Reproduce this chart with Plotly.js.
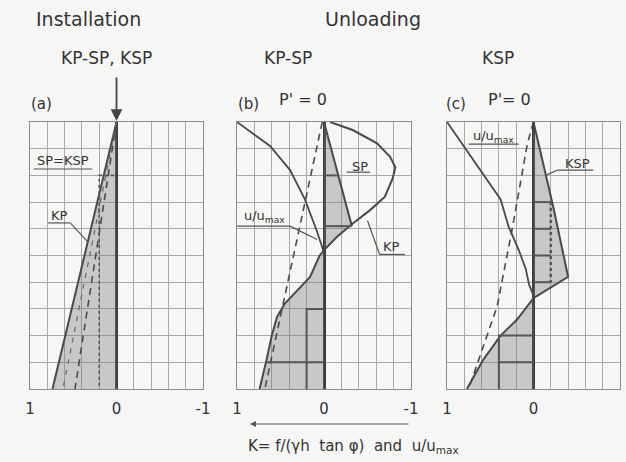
<!DOCTYPE html>
<html>
<head>
<meta charset="utf-8">
<script src="https://cdn.plot.ly/plotly-3.0.1.min.js"></script>
<style>html,body{margin:0;padding:0;background:#f6f6f4;}#chart{width:626px;height:462px;}</style>
</head>
<body>
<div id="chart"></div>
<script>
// ---------- DATA (x = K or u/umax, d = relative depth) ----------
// Panel (a) installation
const aKP_x = [0, 0.74];           const aKP_d = [0, 1];
const aSP_x = [0, 0.48];           const aSP_d = [0, 1];
const aSP2_x = [0, 0.62];          const aSP2_d = [0, 1];
const aStep_x = [0.03, 0.2, 0.2];  const aStep_d = [0.2, 0.2, 1];

// Panel (b) unloading KP-SP
const bKP_x = [-0.07, -0.33, -0.61, -0.76, -0.82, -0.79, -0.70, -0.53, -0.33, -0.15, 0.0, 0.05, 0.16, 0.31, 0.45, 0.54, 0.60, 0.66, 0.74];
const bKP_d = [0, 0.03, 0.08, 0.13, 0.17, 0.21, 0.28, 0.33, 0.38, 0.43, 0.48, 0.50, 0.58, 0.63, 0.68, 0.73, 0.80, 0.89, 1.0];
const bU_x = [1.0, 0.62, 0.39, 0.22, 0.08, 0.0];
const bU_d = [0, 0.09, 0.18, 0.29, 0.41, 0.49];
const bDash_x = [0.02, 0.68];      const bDash_d = [0, 1];
const bSP_x = [0, -0.32];          const bSP_d = [0, 0.39];
const bStep_x = [0, -0.16, null, 0, -0.32, null, 0.2, 0.2, 0, null, 0.66, 0];
const bStep_d = [0.2, 0.2, null, 0.39, 0.39, null, 1, 0.7, 0.7, null, 0.9, 0.9];

// Panel (c) unloading KSP
const cU_x = [1.0, 0.81, 0.59, 0.38, 0.29, 0.17, 0.09, 0.05, 0.0];
const cU_d = [0, 0.09, 0.19, 0.29, 0.39, 0.48, 0.55, 0.61, 0.65];
const cDash_x = [0, 0.07, 0.24, 0.42, 0.75];
const cDash_d = [0, 0.08, 0.39, 0.69, 1];
const cKSP_x = [0, -0.23, -0.40, 0.0];
const cKSP_d = [0, 0.32, 0.58, 0.66];
const cLow_x = [0, 0.19, 0.38, 0.58, 0.77];
const cLow_d = [0.66, 0.74, 0.80, 0.89, 1.0];
const cStep_x = [0, -0.2, null, 0, -0.2, null, 0, -0.2, null, 0, -0.2, null, 0.4, 0.4, 0, null, 0.4, 0];
const cStep_d = [0.3, 0.3, null, 0.4, 0.4, null, 0.5, 0.5, null, 0.6, 0.6, null, 1, 0.8, 0.8, null, 0.9, 0.9];
const cDot_x = [-0.2, -0.2];       const cDot_d = [0.3, 0.6];

const tickVals = [1, 0, -1];
const tickText = ['1', '0', '-1'];

// ---------- STYLE ----------
const INK = '#4a4a4a';
const SHADE = 'rgba(120,120,120,0.36)';
const FONT = 'DejaVu Sans';

function line(x, y, ax, opts) {
  return Object.assign({type: 'scatter', mode: 'lines', x: x, y: y,
    xaxis: 'x' + ax, yaxis: 'y' + ax, hoverinfo: 'skip', showlegend: false,
    line: {color: INK, width: 1.8}}, opts || {});
}
function shade(x, y, ax) {
  return {type: 'scatter', mode: 'lines', x: x, y: y, xaxis: 'x' + ax, yaxis: 'y' + ax,
    fill: 'toself', fillcolor: SHADE, line: {width: 0}, hoverinfo: 'skip', showlegend: false};
}
function sel(xs, ds, lo, hi) {
  const ox = [], od = [];
  for (let i = 0; i < xs.length; i++) if (ds[i] >= lo && ds[i] <= hi) { ox.push(xs[i]); od.push(ds[i]); }
  return [ox, od];
}

const traces = [];
// (a)
traces.push(shade([0].concat(aKP_x.slice(1), [0]), [0].concat(aKP_d.slice(1), [aKP_d[aKP_d.length - 1]]), ''));
traces.push(line(aKP_x, aKP_d, '', {line: {color: INK, width: 2}}));
traces.push(line(aSP_x, aSP_d, '', {line: {color: INK, width: 1.6, dash: '7px,5px'}}));
traces.push(line(aSP2_x, aSP2_d, '', {line: {color: '#666', width: 1.2, dash: '5px,6px'}}));
traces.push(line(aStep_x, aStep_d, '', {line: {color: '#555', width: 1.6, dash: 'dot'}}));

// (b)
const [bU1x, bU1d] = sel(bKP_x, bKP_d, bSP_d[1] - 0.01, 0.48);
traces.push(shade(bSP_x.concat(bU1x, [0]), bSP_d.concat(bU1d, [0.48]), '2'));
const [bL1x, bL1d] = sel(bKP_x, bKP_d, 0.48, 1);
traces.push(shade(bL1x.concat([0]), bL1d.concat([1]), '2'));
traces.push(line(bKP_x, bKP_d, '2', {line: {color: INK, width: 2}}));
traces.push(line(bU_x, bU_d, '2', {line: {color: INK, width: 1.8}}));
traces.push(line(bDash_x, bDash_d, '2', {line: {color: INK, width: 1.6, dash: '7px,5px'}}));
traces.push(line(bSP_x, bSP_d, '2', {line: {color: INK, width: 2}}));
traces.push(line(bStep_x, bStep_d, '2', {line: {color: '#555', width: 2}, connectgaps: false}));

// (c)
traces.push(shade(cKSP_x, cKSP_d, '3'));
traces.push(shade(cLow_x.concat([0]), cLow_d.concat([1]), '3'));
traces.push(line(cU_x, cU_d, '3', {line: {color: INK, width: 1.8}}));
traces.push(line(cDash_x, cDash_d, '3', {line: {color: INK, width: 1.6, dash: '7px,5px'}}));
traces.push(line(cKSP_x, cKSP_d, '3', {line: {color: INK, width: 2}}));
traces.push(line(cLow_x, cLow_d, '3', {line: {color: INK, width: 2}}));
traces.push(line(cStep_x, cStep_d, '3', {line: {color: '#555', width: 2}, connectgaps: false}));
traces.push(line(cDot_x, cDot_d, '3', {line: {color: '#555', width: 2.5, dash: 'dot'}}));

// ---------- LAYOUT ----------
const W = 626, H = 462;
const px = v => v / W, py = v => 1 - v / H;
const yDom = [py(389), py(122)];

function xax(d0, d1) {
  return {domain: [px(d0), px(d1)], range: [1, -1], tickvals: tickVals, ticktext: tickText,
    showgrid: true, gridcolor: '#a8a8a8', gridwidth: 1,
    minor: {dtick: 0.2, tick0: 0, showgrid: true, gridcolor: '#a8a8a8', gridwidth: 1, ticks: ''},
    zeroline: true, zerolinecolor: '#3c3c3c', zerolinewidth: 3,
    showline: true, mirror: true, linecolor: '#8a8a8a', linewidth: 1,
    ticks: '', ticklabelstandoff: 6,
    tickfont: {family: FONT, size: 15, color: '#333'}, fixedrange: true};
}
function yax(anchor) {
  return {domain: yDom, range: [1, 0], dtick: 0.1, tick0: 0, showticklabels: false,
    showgrid: true, gridcolor: '#a8a8a8', gridwidth: 1, zeroline: false,
    showline: true, mirror: true, linecolor: '#8a8a8a', linewidth: 1, ticks: '',
    anchor: anchor, fixedrange: true};
}

const txt = (text, x, y, size, extra) => Object.assign({text: text, x: px(x), y: py(y), xref: 'paper', yref: 'paper',
  showarrow: false, xanchor: 'center', yanchor: 'middle', font: {family: FONT, size: size, color: '#333'}}, extra || {});
const atxt = (text, ax, x, y, size) => ({text: text, x: x, y: y, xref: 'x' + ax, yref: 'y' + ax,
  showarrow: false, xanchor: 'center', yanchor: 'middle', font: {family: FONT, size: size, color: '#333'}});

const annotations = [
  txt('Installation', 89, 19, 19),
  txt('Unloading', 373, 19, 19),
  txt('KP-SP, KSP', 106, 58, 17),
  txt('KP-SP', 288, 58, 17),
  txt('KSP', 498, 58, 17),
  txt('(a)', 41, 104, 15),
  txt('(b)', 248, 104, 15),
  txt('(c)', 456, 104, 15),
  txt("P' = 0", 303, 99, 16),
  txt("P'= 0", 509, 99, 16),
  txt('K= f/(\u03b3h  tan \u03c6)  and  u/u<sub>max</sub>', 246, 446, 15, {xanchor: 'left'}),
  {x: px(250), y: py(424), xref: 'paper', yref: 'paper', ax: 160, ay: 0, text: '', showarrow: true,
    arrowhead: 2, arrowsize: 1, arrowwidth: 1.2, arrowcolor: '#555'},
  {x: 0, y: 0, xref: 'x', yref: 'y', ax: 0, ay: -46, text: '', showarrow: true,
    arrowhead: 2, arrowsize: 1.3, arrowwidth: 1.8, arrowcolor: '#444', standoff: 1},
  atxt('SP=KSP', '', 0.62, 0.145, 13),
  atxt('KP', '', 0.66, 0.35, 13),
  atxt('SP', '2', -0.41, 0.165, 13),
  atxt('u/u<sub>max</sub>', '2', 0.68, 0.355, 13),
  atxt('KP', '2', -0.78, 0.466, 13),
  atxt('u/u<sub>max</sub>', '3', 0.46, 0.055, 13),
  atxt('KSP', '3', -0.51, 0.155, 13)
];
// label underlines / leaders
const seg = (ax, x0, y0, x1, y1) => ({type: 'line', xref: 'x' + ax, yref: 'y' + ax, x0: x0, y0: y0, x1: x1, y1: y1,
  line: {color: '#555', width: 1.2}});
const shapes = [
  seg('', 0.96, 0.176, 0.28, 0.176),
  seg('', 0.79, 0.378, 0.53, 0.378), seg('', 0.53, 0.38, 0.34, 0.446),
  seg('2', -0.26, 0.188, -0.53, 0.188),
  seg('2', 1.0, 0.39, 0.39, 0.39), seg('2', 0.39, 0.39, 0.08, 0.44),
  seg('2', -0.64, 0.496, -0.93, 0.496), seg('2', -0.64, 0.496, -0.5, 0.37),
  seg('3', 0.75, 0.083, 0.17, 0.083),
  seg('3', -0.28, 0.18, -0.69, 0.18), seg('3', -0.28, 0.18, -0.14, 0.2)
];

const layout = {
  width: W, height: H, margin: {l: 0, r: 0, t: 0, b: 0},
  paper_bgcolor: '#f6f6f4', plot_bgcolor: '#f6f6f4', showlegend: false,
  xaxis: xax(30, 203), yaxis: yax('x'),
  xaxis2: Object.assign(xax(237, 411), {anchor: 'y2'}), yaxis2: yax('x2'),
  xaxis3: Object.assign(xax(447, 620), {anchor: 'y3'}), yaxis3: yax('x3'),
  annotations: annotations, shapes: shapes
};

Plotly.newPlot('chart', traces, layout, {staticPlot: true, displayModeBar: false});
</script>
</body>
</html>
